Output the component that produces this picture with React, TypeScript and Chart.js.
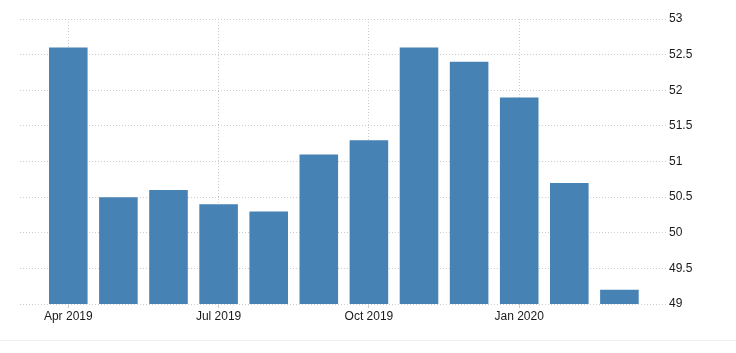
import React, { useEffect, useRef } from "react";
import { Chart, registerables } from "chart.js";

Chart.register(...registerables);

const categories = [
  "Apr 2019", "May 2019", "Jun 2019", "Jul 2019", "Aug 2019", "Sep 2019",
  "Oct 2019", "Nov 2019", "Dec 2019", "Jan 2020", "Feb 2020", "Mar 2020",
];
const values = [52.6, 50.5, 50.6, 50.4, 50.3, 51.1, 51.3, 52.6, 52.4, 51.9, 50.7, 49.2];
const xTickIndices = [0, 3, 6, 9];
const yMin = 49;
const yMax = 53;
const yStep = 0.5;

export default function App() {
  const ref = useRef<HTMLCanvasElement>(null);

  useEffect(() => {
    if (!ref.current) return;
    const chart = new Chart(ref.current, {
      type: "bar",
      data: {
        datasets: [
          {
            data: values.map((v, i) => ({ x: i, y: v })),
            backgroundColor: "#4682b4",
            borderWidth: 0,
            categoryPercentage: 1,
            barPercentage: 0.77,
          },
        ],
      },
      options: {
        animation: false,
        responsive: false,
        maintainAspectRatio: false,
        layout: { padding: { top: 19, left: 20, right: 0, bottom: 0 } },
        plugins: { legend: { display: false }, tooltip: { enabled: false } },
        scales: {
          x: {
            type: "linear",
            min: -0.964,
            max: 11.95,
            offset: false,
            grid: {
              offset: false,
              color: "#cccccc",
              lineWidth: 1,
              tickLength: 4,
              drawTicks: true,
            },
            border: { display: false, dash: [1, 2] },
            afterBuildTicks: (scale: any) => {
              scale.ticks = xTickIndices.map((v) => ({ value: v }));
            },
            afterFit: (scale: any) => {
              scale.height = 49;
            },
            ticks: {
              autoSkip: false,
              maxRotation: 0,
              padding: 1,
              color: "#1a1a1a",
              font: { family: "'Liberation Sans', Arial, sans-serif", size: 12 },
              callback: (v: any) => categories[Math.round(Number(v))] ?? "",
            },
          },
          y: {
            position: "right",
            min: yMin,
            max: yMax,
            grid: {
              color: "#cccccc",
              drawTicks: false,
            },
            border: { display: false, dash: [1, 2] },
            afterFit: (scale: any) => {
              scale.width = 69;
            },
            ticks: {
              stepSize: yStep,
              padding: 2,
              color: "#1a1a1a",
              font: { family: "'Liberation Sans', Arial, sans-serif", size: 12 },
              callback: (v: any) => String(Number(v)),
            },
          },
        },
      },
    });
    return () => chart.destroy();
  }, []);

  return (
    <div style={{ position: "absolute", left: 0, top: 0, width: 736, height: 353, background: "#fff" }}>
      <canvas ref={ref} width={736} height={353} style={{ display: "block" }} />
      <div style={{ position: "absolute", left: 0, top: 340, width: 736, height: 1, background: "#f0f0f0" }} />
    </div>
  );
}
